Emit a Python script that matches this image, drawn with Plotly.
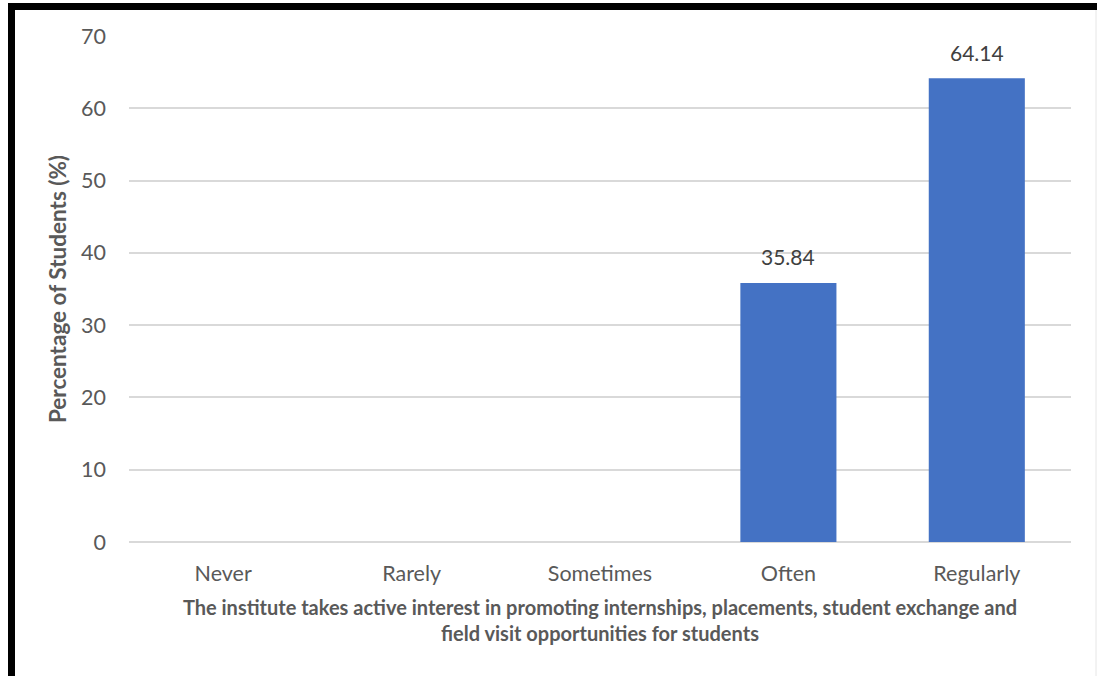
import plotly.graph_objects as go

categories = ["Never", "Rarely", "Sometimes", "Often", "Regularly"]
values = [None, None, None, 35.84, 64.14]
labels = ["", "", "", "35.84", "64.14"]
y_ticks = [0, 10, 20, 30, 40, 50, 60, 70]

W, H = 1097, 676
L, R, T, B = 129, 26, 36, 134
pw, ph = W - L - R, H - T - B

def px(x):
    return (x - L) / pw

def py(y):
    return (H - B - y) / ph

fig = go.Figure()
fig.add_trace(go.Bar(
    x=categories, y=values,
    marker=dict(color="#4472C4", line=dict(width=0)),
    hoverinfo="x+y",
))

for c, v, t in zip(categories, values, labels):
    if v is not None:
        fig.add_annotation(x=c, y=v, text=t, showarrow=False, yshift=26,
                           font=dict(size=21, color="#404040", family="Lato"))

fig.update_layout(
    width=W, height=H,
    margin=dict(l=L, r=R, t=T, b=B),
    paper_bgcolor="white", plot_bgcolor="white",
    bargap=0.49,
    showlegend=False,
    font=dict(family="Lato", color="#595959"),
    xaxis=dict(
        showgrid=False, showline=False, ticks="", ticklabelstandoff=16,
        tickfont=dict(size=21.5, color="#595959"),
        title=dict(
            text="<b>The institute takes active interest in promoting internships, placements, student exchange and<br>field visit opportunities for students</b>",
            font=dict(size=20, color="#595959"), standoff=16),
    ),
    yaxis=dict(
        range=[0, 70], tickvals=y_ticks, showgrid=True,
        gridcolor="#d9d9d9", gridwidth=1.5,
        zeroline=True, zerolinecolor="#d9d9d9", zerolinewidth=1.5,
        showline=False, ticks="", ticklabelstandoff=22,
        tickfont=dict(size=21.5, color="#595959"),
        title=dict(text="<b>Percentage of Students (%)</b>",
                   font=dict(size=22.5, color="#595959"), standoff=8),
    ),
    shapes=[
        dict(type="line", xref="paper", yref="paper",
             x0=px(11.5), x1=px(11.5), y0=py(3), y1=py(680),
             line=dict(color="black", width=7)),
        dict(type="line", xref="paper", yref="paper",
             x0=px(8), x1=px(1100), y0=py(6.5), y1=py(6.5),
             line=dict(color="black", width=7)),
        dict(type="line", xref="paper", yref="paper",
             x0=px(1096), x1=px(1096), y0=py(10), y1=py(680),
             line=dict(color="#e6e6e6", width=1)),
    ],
)

fig.write_html("out.html", config={"displayModeBar": False},
               post_script="document.body.style.margin='0';document.body.style.overflow='hidden';")
